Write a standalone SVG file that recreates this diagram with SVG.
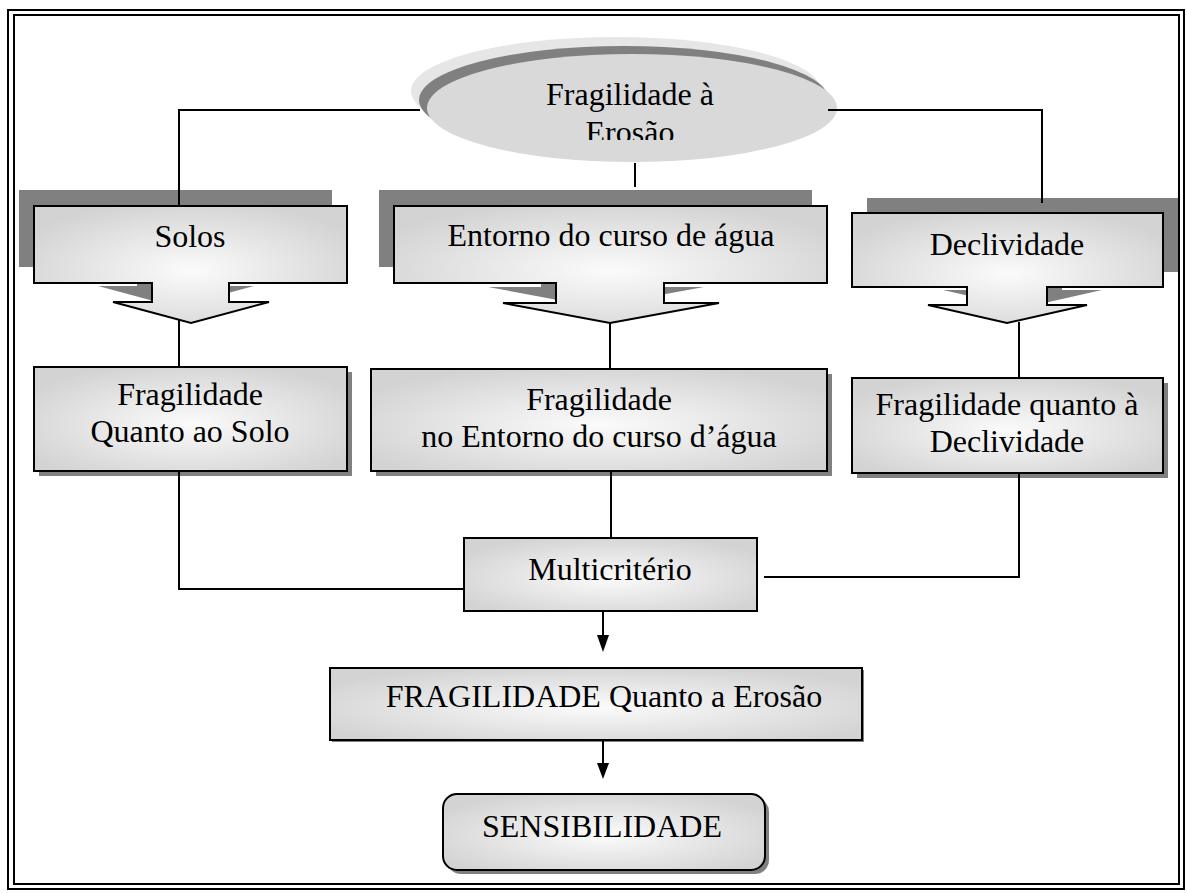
<svg xmlns="http://www.w3.org/2000/svg" width="1187" height="893" viewBox="0 0 1187 893">
<style>
.t{font-family:"Liberation Serif","Times New Roman",serif;font-size:32px;fill:#000;text-anchor:middle}
.box{stroke:#000;stroke-width:2;fill:url(#g)}
.shd{fill:#808080;stroke:none}
.ln{fill:none;stroke:#000;stroke-width:2}
.ah{fill:#000;stroke:none}
.bd{fill:none;stroke:#000;stroke-width:2}
</style>
<defs>
<radialGradient id="g" cx="0.5" cy="0.55" r="0.6">
<stop offset="0" stop-color="#fbfbfb"/>
<stop offset="1" stop-color="#d3d3d3"/>
</radialGradient>
<clipPath id="ec"><rect x="400" y="40" width="460" height="100"/></clipPath>
</defs>
<rect width="1187" height="893" fill="#fff"/>
<g id="border">
<rect class="bd" x="8" y="10" width="1176" height="879"/>
<rect class="bd" x="14" y="15" width="1165" height="869"/>
</g>
<g id="n-erosao">
<ellipse cx="616" cy="91" rx="205" ry="54" fill="#e6e6e6"/>
<ellipse cx="624" cy="100" rx="205" ry="54" fill="#808080"/>
<ellipse cx="632" cy="108" rx="205" ry="54" fill="#d9d9d9"/>
<g clip-path="url(#ec)">
<text class="t" x="630" y="105">Fragilidade à</text>
<text class="t" x="630" y="143">Erosão</text>
</g>
</g>
<g id="n-solos">
<path class="shd" transform="translate(-15,-16)" d="M34,206H347V283H229V302H269L191,323L113,302H152V283H34Z"/>
<path class="box" d="M34,206H347V283H229V302H269L191,323L113,302H152V283H34Z"/>
<text class="t" x="190" y="247">Solos</text>
</g>
<g id="n-entorno">
<path class="shd" transform="translate(-15,-16)" d="M394,206H827V283H664V303H719L610,323L503,303H556V283H394Z"/>
<path class="box" d="M394,206H827V283H664V303H719L610,323L503,303H556V283H394Z"/>
<text class="t" x="611" y="246">Entorno do curso de água</text>
</g>
<g id="n-declividade">
<path class="shd" transform="translate(15,-15)" d="M852,213H1163V287H1047V305H1087L1007,323L928,305H967V287H852Z"/>
<path class="box" d="M852,213H1163V287H1047V305H1087L1007,323L928,305H967V287H852Z"/>
<text class="t" x="1007" y="255">Declividade</text>
</g>
<g id="n-frag-solo">
<rect class="shd" x="39" y="372" width="313" height="104"/>
<rect class="box" x="34" y="367" width="313" height="104"/>
<text class="t" x="190" y="405">Fragilidade</text>
<text class="t" x="190" y="442">Quanto ao Solo</text>
</g>
<g id="n-frag-entorno">
<rect class="shd" x="376" y="374" width="456" height="102"/>
<rect class="box" x="371" y="369" width="456" height="102"/>
<text class="t" x="599" y="410">Fragilidade</text>
<text class="t" x="599" y="447">no Entorno do curso d’água</text>
</g>
<g id="n-frag-decl">
<rect class="shd" x="857" y="383" width="311" height="95"/>
<rect class="box" x="852" y="378" width="311" height="95"/>
<text class="t" x="1007" y="415">Fragilidade quanto à</text>
<text class="t" x="1007" y="452">Declividade</text>
</g>
<g id="n-multi">
<rect class="box" x="464" y="538" width="293" height="73"/>
<text class="t" x="610" y="580">Multicritério</text>
</g>
<g id="n-frag-erosao">
<rect class="shd" x="332" y="670" width="532" height="72"/>
<rect class="box" x="330" y="668" width="532" height="72"/>
<text class="t" x="604" y="707">FRAGILIDADE Quanto a Erosão</text>
</g>
<g id="n-sens">
<rect class="shd" x="447" y="798" width="322" height="76" rx="14"/>
<rect class="box" x="443" y="794" width="322" height="76" rx="14"/>
<text class="t" x="602" y="837">SENSIBILIDADE</text>
</g>
<g id="connectors">
<path class="ln" d="M420,110H179V206"/>
<path class="ln" d="M635,163V187"/>
<path class="ln" d="M828,110H1042V203"/>
<path class="ln" d="M179,320V367"/>
<path class="ln" d="M610,323V369"/>
<path class="ln" d="M1019,322V378"/>
<path class="ln" d="M179,471V589H464"/>
<path class="ln" d="M611,471V538"/>
<path class="ln" d="M1019,473V577H764"/>
<path class="ln" d="M603,612V637"/>
<polygon class="ah" points="597,635 609,635 603,652"/>
<path class="ln" d="M603,740V765"/>
<polygon class="ah" points="597,763 609,763 603,779"/>
</g>
</svg>
